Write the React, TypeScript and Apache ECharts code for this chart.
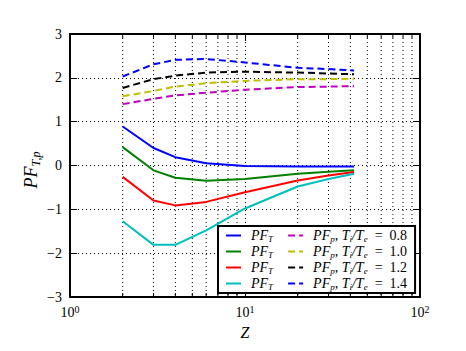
import React, { useEffect, useRef } from "react";
import * as echarts from "echarts";

const Z = [2, 3, 4, 6, 10, 20, 30, 42];
const PFT_BLUE = [0.89, 0.4, 0.19, 0.05, -0.01, -0.02, -0.02, -0.02];
const PFT_GREEN = [0.42, -0.11, -0.28, -0.35, -0.31, -0.19, -0.14, -0.11];
const PFT_RED = [-0.26, -0.8, -0.91, -0.83, -0.61, -0.34, -0.23, -0.15];
const PFT_CYAN = [-1.27, -1.81, -1.81, -1.48, -0.98, -0.48, -0.31, -0.19];
const PFP_08 = [1.4, 1.52, 1.6, 1.66, 1.73, 1.79, 1.8, 1.81];
const PFP_10 = [1.58, 1.7, 1.8, 1.88, 1.93, 1.97, 1.97, 1.98];
const PFP_12 = [1.77, 1.97, 2.05, 2.12, 2.14, 2.12, 2.1, 2.08];
const PFP_14 = [2.03, 2.31, 2.41, 2.43, 2.35, 2.23, 2.2, 2.17];
const RATIOS = ["0.8", "1.0", "1.2", "1.4"];
const MINOR_X = [2, 3, 4, 5, 6, 7, 8, 9, 20, 30, 40, 50, 60, 70, 80, 90];
const X_TICK_EXP: Record<number, string> = { 1: "0", 10: "1", 100: "2" };

const SERIF = "Liberation Serif";

export default function App() {
  const ref = useRef<HTMLDivElement>(null);
  useEffect(() => {
    if (!ref.current) return;
    const chart = echarts.init(ref.current, null, { renderer: "svg" });
    const pairs = (ys: number[]) => Z.map((z, i) => [z, ys[i]]);
    const solid = (name: string, color: string, ys: number[]) => ({
      name,
      type: "line",
      data: pairs(ys),
      symbol: "none",
      z: 3,
      lineStyle: { color, width: 2, type: "solid" },
      itemStyle: { color },
    });
    const dashed = (name: string, color: string, ys: number[]) => ({
      name,
      type: "line",
      data: pairs(ys),
      symbol: "none",
      z: 3,
      lineStyle: { color, width: 2, type: [7, 4] },
      itemStyle: { color },
    });
    const legendNames = ["T_b", "T_g", "T_r", "T_c", ...RATIOS.map((r) => "P_" + r)];
    const rich = {
      i: { fontFamily: SERIF, fontStyle: "italic", fontSize: 14, lineHeight: 15, color: "#000" },
      sub: { fontFamily: SERIF, fontStyle: "italic", fontSize: 9, lineHeight: 9, color: "#000", padding: [6, 0, 0, 0] },
      r: { fontFamily: SERIF, fontSize: 14, lineHeight: 15, color: "#000" },
      pad: { width: 5, lineHeight: 15 },
      sp: { width: 13, lineHeight: 15 },
    };
    const option = {
      animation: false,
      grid: { left: 70, right: 46, top: 34, bottom: 54, containLabel: false },
      xAxis: [
        {
          type: "log",
          logBase: 10,
          min: 1,
          max: 100,
          axisLine: { show: true, onZero: false, lineStyle: { color: "#000", width: 2 } },
          axisTick: { show: true, inside: true, length: 7, lineStyle: { color: "#000", width: 1 } },
          axisLabel: {
            margin: 7,
            formatter: (v: number) => `{b|10}{s|${X_TICK_EXP[Math.round(v)] ?? ""}}`,
            rich: {
              b: { fontFamily: SERIF, fontSize: 14, color: "#000" },
              s: { fontFamily: SERIF, fontSize: 10, color: "#000", padding: [0, 0, 7, 0] },
            },
          },
          splitLine: { show: true, lineStyle: { color: "#000", width: 1, type: [1, 3] } },
        },
        {
          type: "log",
          logBase: 10,
          min: 1,
          max: 100,
          position: "top",
          axisLine: { show: true, onZero: false, lineStyle: { color: "#000", width: 2 } },
          axisTick: { show: true, inside: true, length: 7, lineStyle: { color: "#000", width: 1 } },
          axisLabel: { show: false },
          splitLine: { show: false },
        },
      ],
      yAxis: [
        {
          type: "value",
          min: -3,
          max: 3,
          interval: 1,
          axisLine: { show: true, onZero: false, lineStyle: { color: "#000", width: 2 } },
          axisTick: { show: true, inside: true, length: 7, lineStyle: { color: "#000", width: 1 } },
          axisLabel: {
            margin: 8,
            fontFamily: SERIF,
            fontSize: 14,
            color: "#000",
            formatter: (v: number) => (v < 0 ? "\u2212" + Math.abs(v) : String(v)),
          },
          splitLine: { show: true, lineStyle: { color: "#000", width: 1, type: [1, 3] } },
        },
        {
          type: "value",
          min: -3,
          max: 3,
          interval: 1,
          position: "right",
          axisLine: { show: true, onZero: false, lineStyle: { color: "#000", width: 2 } },
          axisTick: { show: true, inside: true, length: 7, lineStyle: { color: "#000", width: 1 } },
          axisLabel: { show: false },
          splitLine: { show: false },
        },
      ],
      legend: {
        data: legendNames,
        orient: "vertical",
        left: 218,
        top: 226,
        height: 64,
        itemWidth: 15,
        itemHeight: 11,
        itemGap: 1,
        padding: [2, 8, 2, 7],
        borderColor: "#000",
        borderWidth: 2,
        borderRadius: 0,
        backgroundColor: "#fff",
        z: 10,
        itemStyle: { opacity: 0 },
        formatter: (name: string) => {
          if (name.startsWith("T")) return "{pad|}{i|PF}{sub|T}{sp|}";
          const r = name.slice(2);
          return `{pad|}{i|PF}{sub|p}{i|, T}{sub|i}{i|/T}{sub|e}{r|  =  ${r}}`;
        },
        textStyle: { rich },
      },
      series: [
        solid("T_b", "#0000ff", PFT_BLUE),
        solid("T_g", "#008000", PFT_GREEN),
        solid("T_r", "#ff0000", PFT_RED),
        solid("T_c", "#00bfbf", PFT_CYAN),
        dashed("P_0.8", "#bf00bf", PFP_08),
        dashed("P_1.0", "#bfbf00", PFP_10),
        dashed("P_1.2", "#000000", PFP_12),
        dashed("P_1.4", "#0000ff", PFP_14),
        {
          type: "custom",
          name: "minorgrid",
          silent: true,
          z: 1,
          data: MINOR_X.map((x) => [x, 0]),
          encode: { x: 0, y: 1 },
          renderItem: (params: any, api: any) => {
            const x = api.coord([api.value(0), 0])[0];
            const cs = params.coordSys;
            const top = cs.y;
            const bot = cs.y + cs.height;
            return {
              type: "group",
              children: [
                { type: "line", shape: { x1: x, y1: top, x2: x, y2: bot }, style: { stroke: "#000", lineWidth: 1, lineDash: [1, 3] } },
                { type: "line", shape: { x1: x, y1: bot, x2: x, y2: bot - 4 }, style: { stroke: "#000", lineWidth: 1 } },
                { type: "line", shape: { x1: x, y1: top, x2: x, y2: top + 4 }, style: { stroke: "#000", lineWidth: 1 } },
              ],
            };
          },
        },
      ],
      graphic: [
        {
          type: "text",
          x: 31,
          y: 170,
          rotation: Math.PI / 2,
          style: {
            text: "{i|PF}{sub|T,p}",
            align: "center",
            verticalAlign: "middle",
            rich: {
              i: { fontFamily: SERIF, fontStyle: "italic", fontSize: 18, fill: "#000" },
              sub: { fontFamily: SERIF, fontStyle: "italic", fontSize: 12, fill: "#000", padding: [9, 0, 0, 0] },
            },
          },
        },
        {
          type: "text",
          x: 245,
          y: 332,
          style: {
            text: "Z",
            align: "center",
            verticalAlign: "middle",
            fontFamily: SERIF,
            fontStyle: "italic",
            fontSize: 16,
            fill: "#000",
          },
        },
      ],
    };
    chart.setOption(option as any);
    return () => chart.dispose();
  }, []);
  return <div ref={ref} style={{ width: 466, height: 351, position: "absolute", left: 0, top: 0, background: "#fff" }} />;
}
